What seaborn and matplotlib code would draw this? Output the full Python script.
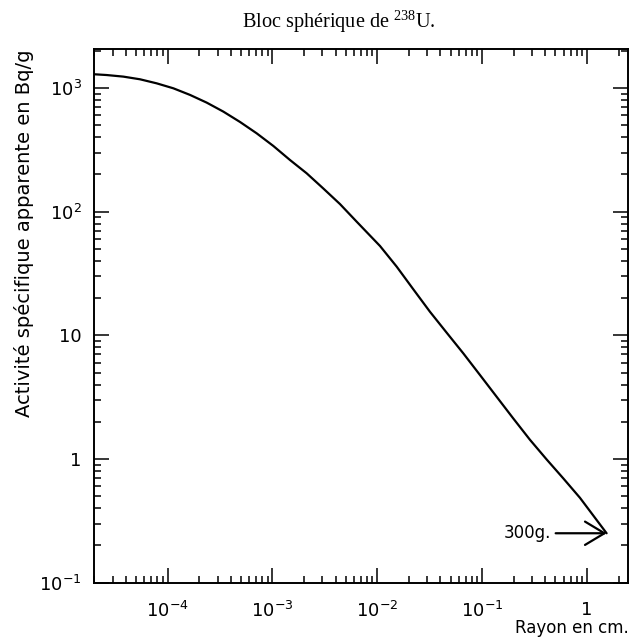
import matplotlib
matplotlib.use("Agg")
import matplotlib.pyplot as plt
import matplotlib.ticker as mticker
import numpy as np
import pandas as pd
import seaborn as sns

# ---- data ----
rayon_cm = [2.0e-5, 2.62e-5, 3.78e-5, 5.46e-5, 7.87e-5, 1.135e-4, 1.637e-4,
            2.36e-4, 3.40e-4, 4.91e-4, 7.08e-4, 1.021e-3, 1.472e-3, 2.12e-3,
            3.05e-3, 4.41e-3, 6.35e-3, 1.062e-2, 1.531e-2, 2.21e-2, 3.18e-2,
            4.59e-2, 6.62e-2, 9.55e-2, 0.1374, 0.198, 0.286, 0.412, 0.594,
            0.857, 1.54]
activite_bq_g = [1288, 1270, 1233, 1173, 1088, 992, 877,
                 760, 643, 530, 429, 339, 261, 204,
                 154, 115, 83, 52.7, 35.9, 23.5, 15.5,
                 10.5, 7.14, 4.77, 3.19, 2.13, 1.43, 0.993, 0.698,
                 0.486, 0.251]

x_ticks = [1e-4, 1e-3, 1e-2, 1e-1, 1]
x_tick_labels = [r"$10^{-4}$", r"$10^{-3}$", r"$10^{-2}$", r"$10^{-1}$", "1"]
y_ticks = [1e-1, 1, 10, 1e2, 1e3]
y_tick_labels = [r"$10^{-1}$", "1", "10", r"$10^{2}$", r"$10^{3}$"]

title = r"Bloc sphérique de $^{238}$U."
xlabel = "Rayon en cm."
ylabel = "Activité spécifique apparente en Bq/g"
annot_text = "300g."
annot_tip = (1.54, 0.251)
annot_tail = (0.503, 0.251)
annot_text_x = 0.454

df = pd.DataFrame({"rayon": rayon_cm, "activite": activite_bq_g})

sns.set_style("ticks")
plt.rcParams["font.family"] = ["DejaVu Sans"]
plt.rcParams["font.weight"] = "normal"
plt.rcParams["text.color"] = "black"
plt.rcParams["axes.labelcolor"] = "black"
plt.rcParams["xtick.color"] = "black"
plt.rcParams["ytick.color"] = "black"
plt.rcParams["mathtext.fontset"] = "dejavusans"
plt.rcParams["mathtext.default"] = "regular"

fig = plt.figure(figsize=(6.29, 6.42), dpi=100)
ax = fig.add_axes([94.3 / 629, 1 - 582.7 / 642, (628.3 - 94.3) / 629, (582.7 - 49.3) / 642])

sns.lineplot(data=df, x="rayon", y="activite", ax=ax, color="black", linewidth=1.6,
             estimator=None, sort=False)

ax.set_xscale("log")
ax.set_yscale("log")
ax.set_xlim(2.0e-5, 2.48)
ax.set_ylim(0.1, 2050)

ax.xaxis.set_major_locator(mticker.FixedLocator(x_ticks))
ax.xaxis.set_major_formatter(mticker.FixedFormatter(x_tick_labels))
ax.yaxis.set_major_locator(mticker.FixedLocator(y_ticks))
ax.yaxis.set_major_formatter(mticker.FixedFormatter(y_tick_labels))
ax.xaxis.set_minor_locator(mticker.LogLocator(base=10, subs=np.arange(2, 10), numticks=20))
ax.yaxis.set_minor_locator(mticker.LogLocator(base=10, subs=np.arange(2, 10), numticks=20))
ax.xaxis.set_minor_formatter(mticker.NullFormatter())
ax.yaxis.set_minor_formatter(mticker.NullFormatter())

ax.tick_params(which="both", direction="in", top=True, right=True, width=1.1,
               color="black", labelcolor="black")
ax.tick_params(which="major", length=10.5)
ax.tick_params(which="minor", length=5)
ax.tick_params(axis="x", which="major", labelsize=13, pad=13)
ax.tick_params(axis="y", which="major", labelsize=13, pad=9)
for s in ax.spines.values():
    s.set_linewidth(1.4)
    s.set_color("black")

ax.set_xlabel(xlabel, loc="right", fontsize=12, labelpad=-1, color="black")
ax.set_ylabel(ylabel, loc="top", fontsize=14, labelpad=4, color="black")

fig.text(241.7 / 629, 1 - 27.7 / 642, title, ha="left", va="baseline",
         fontsize=14.6, family="Liberation Serif", weight="normal",
         math_fontfamily="stix", color="black")

ax.annotate("", xy=annot_tip, xytext=annot_tail,
            arrowprops=dict(arrowstyle="->,head_length=1.0,head_width=0.6",
                            lw=1.6, color="black", mutation_scale=14,
                            shrinkA=0, shrinkB=0))
ax.text(annot_text_x, annot_tip[1], annot_text, ha="right", va="center",
        fontsize=12, color="black")

fig.savefig("out.png", dpi=100)
